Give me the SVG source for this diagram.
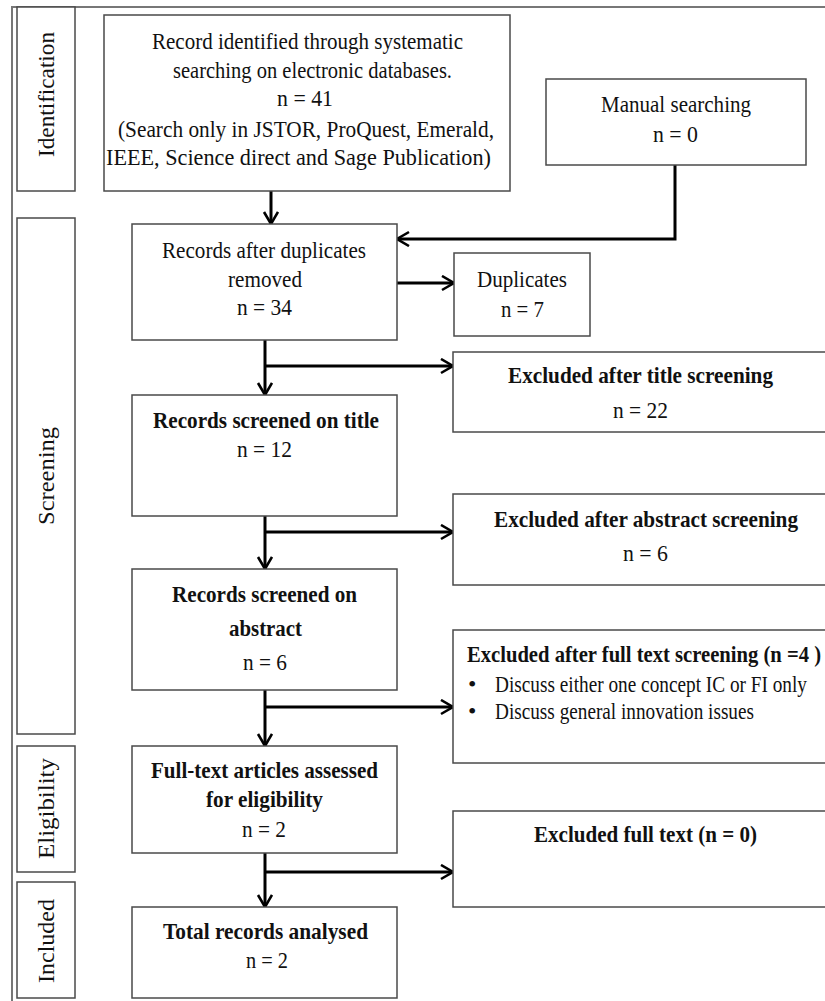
<svg xmlns="http://www.w3.org/2000/svg" width="825" height="1001" viewBox="0 0 825 1001">
<defs>
<style>
.box{fill:#fff;stroke:#4a4a4a;stroke-width:1.5}
.stage{fill:#fff;stroke:#4a4a4a;stroke-width:1.5}
.frame{fill:none;stroke:#777;stroke-width:2}
.t{font-family:"Liberation Serif","Times New Roman",serif;font-size:24px;fill:#111}
.b{font-weight:bold}
.lab{font-family:"Liberation Serif","Times New Roman",serif;font-size:24px;fill:#111;text-anchor:middle}
.conn{fill:none;stroke:#000;stroke-width:3}
</style>
<marker id="ah" markerUnits="userSpaceOnUse" markerWidth="18" markerHeight="18" refX="14" refY="8" orient="auto">
<path d="M2,1 L14,8 L2,15" fill="none" stroke="#000" stroke-width="2.6"/>
</marker>
</defs>
<rect width="825" height="1001" fill="#fff"/>
<path class="frame" d="M12,1001 V7 H825"/>

<g id="stage-identification"><rect class="stage" x="17" y="7" width="58" height="184"/><text class="lab" transform="translate(54,94.5) rotate(-90)" textLength="125" lengthAdjust="spacingAndGlyphs">Identification</text></g>
<g id="stage-screening"><rect class="stage" x="17" y="218" width="58" height="516"/><text class="lab" transform="translate(54,476) rotate(-90)" textLength="98" lengthAdjust="spacingAndGlyphs">Screening</text></g>
<g id="stage-eligibility"><rect class="stage" x="17" y="746" width="58" height="126"/><text class="lab" transform="translate(54,808.5) rotate(-90)" textLength="101" lengthAdjust="spacingAndGlyphs">Eligibility</text></g>
<g id="stage-included"><rect class="stage" x="17" y="882" width="58" height="116"/><text class="lab" transform="translate(54,941) rotate(-90)" textLength="84" lengthAdjust="spacingAndGlyphs">Included</text></g>

<g id="connectors">
<path class="conn" d="M271,191 V224" marker-end="url(#ah)"/>
<path class="conn" d="M675,165 V239 H397" marker-end="url(#ah)"/>
<path class="conn" d="M397,283 H454" marker-end="url(#ah)"/>
<path class="conn" d="M265,340 V395" marker-end="url(#ah)"/>
<path class="conn" d="M265,366 H453" marker-end="url(#ah)"/>
<path class="conn" d="M265,516 V569" marker-end="url(#ah)"/>
<path class="conn" d="M265,532 H453" marker-end="url(#ah)"/>
<path class="conn" d="M265,690 V746" marker-end="url(#ah)"/>
<path class="conn" d="M265,707 H453" marker-end="url(#ah)"/>
<path class="conn" d="M265,853 V907" marker-end="url(#ah)"/>
<path class="conn" d="M265,872 H453" marker-end="url(#ah)"/>
</g>

<g id="identified">
<rect class="box" x="104" y="15" width="406" height="176"/>
<text class="t" x="152" y="49" textLength="311" lengthAdjust="spacingAndGlyphs">Record identified through systematic</text>
<text class="t" x="173" y="78" textLength="279" lengthAdjust="spacingAndGlyphs">searching on electronic databases.</text>
<text class="t" x="277" y="106" textLength="56" lengthAdjust="spacingAndGlyphs">n = 41</text>
<text class="t" x="118" y="137" textLength="376" lengthAdjust="spacingAndGlyphs">(Search only in JSTOR, ProQuest, Emerald,</text>
<text class="t" x="106" y="165" textLength="385" lengthAdjust="spacingAndGlyphs">IEEE, Science direct and Sage Publication)</text>
</g>
<g id="manual">
<rect class="box" x="546" y="79" width="260" height="86"/>
<text class="t" x="601" y="112" textLength="150" lengthAdjust="spacingAndGlyphs">Manual searching</text>
<text class="t" x="653" y="142" textLength="45" lengthAdjust="spacingAndGlyphs">n = 0</text>
</g>
<g id="after-duplicates">
<rect class="box" x="132" y="224" width="265" height="116"/>
<text class="t" x="162" y="258" textLength="204" lengthAdjust="spacingAndGlyphs">Records after duplicates</text>
<text class="t" x="228" y="287" textLength="74" lengthAdjust="spacingAndGlyphs">removed</text>
<text class="t" x="237" y="315" textLength="55" lengthAdjust="spacingAndGlyphs">n = 34</text>
</g>
<g id="duplicates">
<rect class="box" x="454" y="253" width="136" height="83"/>
<text class="t" x="477" y="287" textLength="90" lengthAdjust="spacingAndGlyphs">Duplicates</text>
<text class="t" x="501" y="317" textLength="43" lengthAdjust="spacingAndGlyphs">n = 7</text>
</g>
<g id="screened-title">
<rect class="box" x="132" y="395" width="265" height="121"/>
<text class="t b" x="153" y="428" textLength="226" lengthAdjust="spacingAndGlyphs">Records screened on title</text>
<text class="t" x="237" y="457" textLength="55" lengthAdjust="spacingAndGlyphs">n = 12</text>
</g>
<g id="excluded-title">
<rect class="box" x="453" y="352" width="373" height="80"/>
<text class="t b" x="508" y="383" textLength="265" lengthAdjust="spacingAndGlyphs">Excluded after title screening</text>
<text class="t" x="613" y="418" textLength="55" lengthAdjust="spacingAndGlyphs">n = 22</text>
</g>
<g id="screened-abstract">
<rect class="box" x="132" y="569" width="265" height="121"/>
<text class="t b" x="172" y="602" textLength="185" lengthAdjust="spacingAndGlyphs">Records screened on</text>
<text class="t b" x="229" y="636" textLength="73" lengthAdjust="spacingAndGlyphs">abstract</text>
<text class="t" x="243" y="670" textLength="44" lengthAdjust="spacingAndGlyphs">n = 6</text>
</g>
<g id="excluded-abstract">
<rect class="box" x="453" y="494" width="373" height="91"/>
<text class="t b" x="494" y="527" textLength="304" lengthAdjust="spacingAndGlyphs">Excluded after abstract screening</text>
<text class="t" x="623" y="561" textLength="45" lengthAdjust="spacingAndGlyphs">n = 6</text>
</g>
<g id="excluded-fulltext-screening">
<rect class="box" x="453" y="630" width="373" height="133"/>
<text class="t b" x="467" y="662" textLength="354" lengthAdjust="spacingAndGlyphs">Excluded after full text screening (n =4 )</text>
<text class="t" x="468" y="692">•</text>
<text class="t" x="495" y="692" textLength="312" lengthAdjust="spacingAndGlyphs">Discuss either one concept IC or FI only</text>
<text class="t" x="468" y="719">•</text>
<text class="t" x="495" y="719" textLength="259" lengthAdjust="spacingAndGlyphs">Discuss general innovation issues</text>
</g>
<g id="fulltext-assessed">
<rect class="box" x="132" y="746" width="265" height="107"/>
<text class="t b" x="151" y="778" textLength="227" lengthAdjust="spacingAndGlyphs">Full-text articles assessed</text>
<text class="t b" x="206" y="807" textLength="117" lengthAdjust="spacingAndGlyphs">for eligibility</text>
<text class="t" x="242" y="837" textLength="44" lengthAdjust="spacingAndGlyphs">n = 2</text>
</g>
<g id="excluded-fulltext">
<rect class="box" x="453" y="811" width="373" height="96"/>
<text class="t b" x="534" y="842" textLength="223" lengthAdjust="spacingAndGlyphs">Excluded full text (n = 0)</text>
</g>
<g id="total">
<rect class="box" x="132" y="907" width="265" height="91"/>
<text class="t b" x="163" y="939" textLength="205" lengthAdjust="spacingAndGlyphs">Total records analysed</text>
<text class="t" x="246" y="968" textLength="42" lengthAdjust="spacingAndGlyphs">n = 2</text>
</g>
</svg>
